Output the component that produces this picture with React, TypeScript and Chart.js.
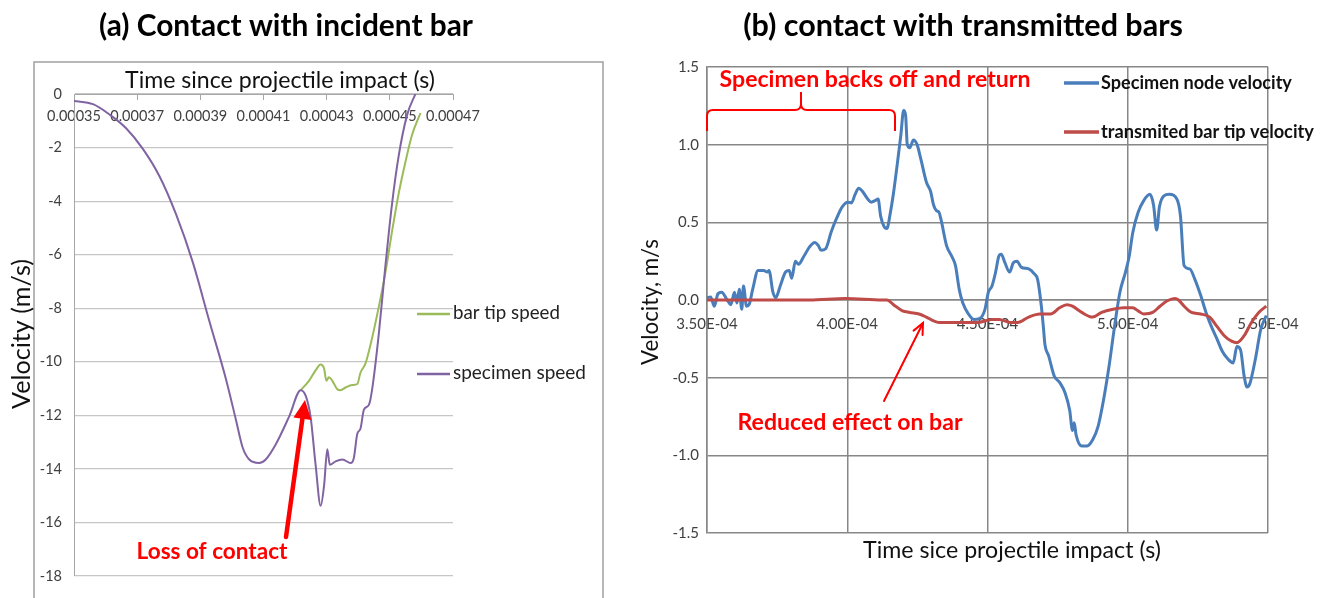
import React, { useEffect, useRef } from "react";
import { Chart, registerables } from "chart.js";

Chart.register(...registerables);

// ---------------- (a) Contact with incident bar ----------------
const leftTitle = "(a) Contact with incident bar";
const leftXTitle = "Time since projectile impact (s)";
const leftYTitle = "Velocity (m/s)";
const leftSeriesNames = ["bar tip speed", "specimen speed"];
const leftXTickLabels = ["0.00035", "0.00037", "0.00039", "0.00041", "0.00043", "0.00045", "0.00047"];
const leftYTickLabels = ["-18", "-16", "-14", "-12", "-10", "-8", "-6", "-4", "-2", "0"];

// time in microseconds since impact
const specimenTimeUs = [
  350, 356, 361.3, 366.5, 371.8, 377.1, 382.3, 387.6, 392.8, 398.1,
  401.3, 403.4, 405.5, 408.6, 410.7, 413.9, 418.1, 421.8, 423.4, 424.9,
  426.5, 428.1, 429.2, 430.2, 431.0, 432.8, 435.0, 437.6, 438.6, 439.7,
  440.7, 441.8, 443.4, 444.4, 446.5, 448.6, 450.7, 452.8, 455.5, 458.1,
];
const specimenSpeed = [
  -0.26, -0.38, -0.77, -1.28, -2.05, -3.08, -4.49, -6.28, -8.46, -10.64,
  -12.18, -13.2, -13.65, -13.78, -13.65, -13.08, -12.05, -11.06, -11.28, -12.05,
  -13.85, -15.38, -14.6, -13.27, -13.85, -13.72, -13.65, -13.78, -13.59, -12.69,
  -12.5, -11.79, -11.6, -11.03, -8.97, -6.41, -4.1, -2.31, -0.77, 0,
];
const barTipTimeUs = [
  421.8, 424.4, 426.5, 428.1, 429.2, 429.9, 430.7, 431.8, 433.4, 434.4,
  436.0, 438.1, 439.7, 440.7, 442.3, 444.4, 446.5, 448.6, 450.7, 452.8,
  454.9, 457.0, 459.7,
];
const barTipSpeed = [
  -11.06, -10.71, -10.32, -10.1, -10.26, -10.71, -10.58, -10.71, -11.03, -11.06,
  -10.96, -10.87, -10.83, -10.41, -10.06, -9.1, -7.95, -6.67, -5.13, -3.72,
  -2.56, -1.54, -0.71,
];

// ---------------- (b) contact with transmitted bars ----------------
const rightTitle = "(b) contact with transmitted bars";
const rightXTitle = "Time sice projectile impact (s)";
const rightYTitle = "Velocity, m/s";
const rightSeriesNames = ["Specimen node velocity", "transmited bar tip velocity"];
const rightXTickLabels = ["3.50E-04", "4.00E-04", "4.50E-04", "5.00E-04", "5.50E-04"];
const rightYTickLabels = ["-1.5", "-1.0", "-0.5", "0.0", "0.5", "1.0", "1.5"];
const braceNote = "Specimen backs off and return";
const arrowNoteA = "Loss of contact";
const arrowNoteB = "Reduced effect on bar";

const nodeTimeUs = [
  350, 351.3, 352.6, 353.9, 355.2, 357.2, 358.5, 359.8, 360.7, 361.5,
  362.4, 363, 364.1, 365, 366.3, 368.2, 370.2, 371.5, 372.1, 373.5,
  374.5, 376.1, 378, 379.3, 380.2, 381.5, 382.6, 384.5, 386.5, 388.4,
  389.7, 390.7, 392.3, 394.3, 396.3, 398.2, 400.2, 401.5, 402.8, 404.1,
  405.4, 407.3, 408.6, 409.9, 411, 411.9, 413.2, 414.1, 415.4, 416.5,
  417.8, 419.1, 420.1, 420.8, 421.4, 422.3, 423.6, 424.9, 426.2, 428.2,
  429.7, 430.8, 431.8, 432.7, 433.4, 435.4, 437.3, 438.6, 439.9, 441.2,
  443.2, 445.1, 447.1, 449.1, 450.3, 451.6, 452.9, 454, 454.9, 456.2,
  457.9, 459.2, 460.5, 462.1, 464.7, 466.6, 467.9, 469.2, 469.9, 470.5,
  471.8, 473.8, 475.7, 477.7, 479.3, 480.3, 480.9, 481.6, 483.6, 485.5,
  487.5, 489.4, 491.4, 493.3, 495.3, 497.2, 499.2, 500.5, 501.8, 503.7,
  505.7, 507.9, 509.2, 510.3, 511.3, 512.9, 514.8, 517.5, 518.8, 520.1,
  522.1, 524, 526, 527.9, 529.8, 531.8, 533.7, 535.7, 537.6, 538.9,
  540.2, 541.5, 542.5, 543.5, 545.5, 547.4, 549.4,
];
const nodeVelocity = [
  0.015, 0.02, -0.04, 0.04, 0.05, 0.0, -0.03, 0.05, -0.02, 0.07,
  -0.06, 0.09, -0.04, -0.03, 0.07, 0.19, 0.19, 0.18, 0.19, 0.05,
  0.015, 0.09, 0.18, 0.19, 0.14, 0.25, 0.23, 0.28, 0.34, 0.37,
  0.35, 0.32, 0.33, 0.44, 0.53, 0.6, 0.63, 0.625, 0.68, 0.72,
  0.7, 0.65, 0.63, 0.64, 0.65, 0.54, 0.47, 0.46, 0.565, 0.69,
  0.87, 1.06, 1.22, 1.19, 1.0, 0.98, 1.03, 1.0, 0.91, 0.76,
  0.7, 0.61, 0.575, 0.565, 0.52, 0.35, 0.28, 0.22, 0.07, -0.02,
  -0.09, -0.125, -0.12, -0.06, 0.05, 0.09, 0.18, 0.28, 0.295, 0.24,
  0.18, 0.24, 0.25, 0.21, 0.2, 0.17, 0.13, -0.04, -0.17, -0.29,
  -0.36, -0.49, -0.53, -0.6, -0.71, -0.84, -0.79, -0.87, -0.94, -0.94,
  -0.9, -0.815, -0.64, -0.43, -0.17, 0.05, 0.18, 0.28, 0.435, 0.565,
  0.64, 0.68, 0.61, 0.45, 0.6, 0.67, 0.68, 0.65, 0.54, 0.22,
  0.2, 0.13, 0.03, -0.08, -0.17, -0.25, -0.33, -0.38, -0.405, -0.3,
  -0.32, -0.49, -0.56, -0.54, -0.38, -0.19, -0.1,
];
const barTimeUs = [
  350, 360.4, 373.5, 386.5, 399.5, 412.5, 414.1, 416.5, 419.7, 422.3,
  425.6, 428.2, 430.8, 432.7, 438.6, 446.4, 451.6, 454.2, 458.1, 460.7,
  464.7, 468.6, 472.5, 475.7, 478.3, 480.3, 483.6, 487.5, 490.7, 494.7,
  498.6, 501.8, 503.7, 505.7, 508.9, 511.5, 514.1, 516.8, 518.1, 520.1,
  522.7, 526, 529.2, 531.8, 534.4, 537, 538.9, 541.5, 544.1, 546.7,
  549.4,
];
const barVelocity = [
  0, 0, 0, 0, 0.01, 0, 0, -0.03, -0.07, -0.08,
  -0.09, -0.11, -0.135, -0.145, -0.145, -0.145, -0.125, -0.125, -0.145, -0.145,
  -0.11, -0.09, -0.09, -0.05, -0.03, -0.04, -0.08, -0.11, -0.08, -0.06,
  -0.05, -0.05, -0.07, -0.09, -0.08, -0.04, -0.005, 0.01, 0, -0.04,
  -0.08, -0.09, -0.11, -0.17, -0.23, -0.265, -0.275, -0.23, -0.145, -0.08,
  -0.04,
];

const REG = "Lato, 'Open Sans', sans-serif";
const BOLD = "Lato, 'Open Sans', sans-serif";

const pts = (xs: number[], ys: number[]) => xs.map((x, i) => ({ x, y: ys[i] }));

function fitText(
  ctx: CanvasRenderingContext2D,
  text: string,
  x: number,
  y: number,
  width: number,
  opts: { weight?: string; family?: string; color?: string; align?: CanvasTextAlign; rotate?: boolean } = {}
) {
  const fam = opts.family || REG;
  const wt = opts.weight || "normal";
  ctx.save();
  ctx.font = `${wt} 100px ${fam}`;
  const m = ctx.measureText(text).width;
  const size = (100 * width) / m;
  ctx.font = `${wt} ${size}px ${fam}`;
  ctx.fillStyle = opts.color || "#000";
  ctx.textBaseline = "middle";
  ctx.textAlign = opts.align || "center";
  ctx.translate(x, y);
  if (opts.rotate) ctx.rotate(-Math.PI / 2);
  ctx.fillText(text, 0, 0);
  ctx.restore();
}

function arrow(
  ctx: CanvasRenderingContext2D,
  x1: number, y1: number, x2: number, y2: number,
  lw: number, headLen: number, headHalf: number, filled: boolean, color: string
) {
  const dx = x2 - x1, dy = y2 - y1;
  const len = Math.hypot(dx, dy);
  const ux = dx / len, uy = dy / len;
  const nx = -uy, ny = ux;
  const bx = x2 - ux * headLen, by = y2 - uy * headLen;
  ctx.save();
  ctx.strokeStyle = color;
  ctx.fillStyle = color;
  ctx.lineWidth = lw;
  ctx.lineCap = "round";
  ctx.beginPath();
  ctx.moveTo(x1, y1);
  ctx.lineTo(filled ? bx + ux * 2 : x2, filled ? by + uy * 2 : y2);
  ctx.stroke();
  ctx.beginPath();
  if (filled) {
    ctx.moveTo(x2, y2);
    ctx.lineTo(bx + nx * headHalf, by + ny * headHalf);
    ctx.lineTo(bx - nx * headHalf, by - ny * headHalf);
    ctx.closePath();
    ctx.fill();
  } else {
    ctx.moveTo(bx + nx * headHalf, by + ny * headHalf);
    ctx.lineTo(x2, y2);
    ctx.lineTo(bx - nx * headHalf, by - ny * headHalf);
    ctx.stroke();
  }
  ctx.restore();
}

const leftDecor = {
  id: "leftDecor",
  beforeDraw(chart: any) {
    const ctx = chart.ctx as CanvasRenderingContext2D;
    ctx.save();
    ctx.strokeStyle = "#A0A0A0";
    ctx.lineWidth = 1.5;
    ctx.strokeRect(34, 62, 569, 560);
    ctx.restore();
  },
  afterDraw(chart: any) {
    const ctx = chart.ctx as CanvasRenderingContext2D;
    fitText(ctx, leftTitle, 286, 26, 374, { weight: "bold", family: BOLD });
    fitText(ctx, leftXTitle, 280, 81, 310, { color: "#111" });
    fitText(ctx, leftYTitle, 22, 334, 150, { color: "#111", rotate: true });
    const ys = [314, 374];
    const widths = [107, 133];
    chart.data.datasets.forEach((ds: any, i: number) => {
      ctx.save();
      ctx.strokeStyle = ds.borderColor;
      ctx.lineWidth = 2.5;
      ctx.beginPath();
      ctx.moveTo(417, ys[i]);
      ctx.lineTo(450, ys[i]);
      ctx.stroke();
      ctx.restore();
      fitText(ctx, ds.label, 453, ys[i] - 1, widths[i], { color: "#222", align: "left" });
    });
    arrow(ctx, 286, 537, 305, 400, 4.5, 19, 9, true, "#FF0000");
    fitText(ctx, arrowNoteA, 212, 552, 151, { weight: "bold", family: BOLD, color: "#FF0000" });
  },
};

const rightDecor = {
  id: "rightDecor",
  afterDraw(chart: any) {
    const ctx = chart.ctx as CanvasRenderingContext2D;
    fitText(ctx, rightTitle, 963, 26, 440, { weight: "bold", family: BOLD });
    fitText(ctx, rightXTitle, 1012, 551, 298, { color: "#111" });
    fitText(ctx, rightYTitle, 651, 302, 126, { color: "#111", rotate: true });
    const ys = [83, 132];
    const widths = [191, 213];
    chart.data.datasets.forEach((ds: any, i: number) => {
      ctx.save();
      ctx.strokeStyle = ds.borderColor;
      ctx.lineWidth = 3.5;
      ctx.beginPath();
      ctx.moveTo(1064, ys[i]);
      ctx.lineTo(1099, ys[i]);
      ctx.stroke();
      ctx.restore();
      fitText(ctx, ds.label, 1101, ys[i], widths[i], { weight: "bold", family: BOLD, color: "#111", align: "left" });
    });
    // curly brace
    ctx.save();
    ctx.strokeStyle = "#FF0000";
    ctx.lineWidth = 2;
    ctx.beginPath();
    ctx.moveTo(707, 131);
    ctx.lineTo(707, 116);
    ctx.quadraticCurveTo(707, 110, 713, 110);
    ctx.lineTo(795, 110);
    ctx.quadraticCurveTo(801, 110, 801, 104);
    ctx.lineTo(801, 92);
    ctx.moveTo(801, 104);
    ctx.quadraticCurveTo(801, 110, 807, 110);
    ctx.lineTo(889, 110);
    ctx.quadraticCurveTo(895, 110, 895, 116);
    ctx.lineTo(895, 131);
    ctx.stroke();
    ctx.restore();
    fitText(ctx, braceNote, 875, 80, 311, { weight: "bold", family: BOLD, color: "#FF0000" });
    arrow(ctx, 884, 401, 923, 323, 2, 11, 5, false, "#FF0000");
    fitText(ctx, arrowNoteB, 850, 423, 225, { weight: "bold", family: BOLD, color: "#FF0000" });
  },
};

export default function App() {
  const refA = useRef<HTMLCanvasElement>(null);
  const refB = useRef<HTMLCanvasElement>(null);

  useEffect(() => {
    document.body.style.margin = "0";
    const tickFont = { family: REG, size: 14.5 };
    const a = new Chart(refA.current as HTMLCanvasElement, {
      type: "line",
      data: {
        datasets: [
          {
            label: leftSeriesNames[0],
            data: pts(barTipTimeUs, barTipSpeed),
            borderColor: "#9BBB59",
            borderWidth: 2,
            pointRadius: 0,
            cubicInterpolationMode: "monotone",
            fill: false,
            order: 1,
          },
          {
            label: leftSeriesNames[1],
            data: pts(specimenTimeUs, specimenSpeed),
            borderColor: "#8064A2",
            borderWidth: 2,
            pointRadius: 0,
            cubicInterpolationMode: "monotone",
            fill: false,
            order: 0,
          },
        ],
      },
      options: {
        responsive: false,
        animation: false,
        events: [],
        layout: { padding: { left: 0, right: 877, top: 94, bottom: 22 } },
        plugins: { legend: { display: false }, title: { display: false }, tooltip: { enabled: false } },
        scales: {
          x: {
            type: "linear",
            position: { y: 0 } as any,
            min: 350,
            max: 470,
            ticks: {
              stepSize: 20,
              autoSkip: false,
              maxRotation: 0,
              padding: 9,
              color: "#404040",
              font: tickFont,
              callback: (_v: any, i: number) => leftXTickLabels[i] ?? "",
            },
            grid: { display: true, drawOnChartArea: false, drawTicks: true, tickLength: 5, color: "#A6A6A6" },
            border: { display: true, color: "#A6A6A6" },
          },
          y: {
            type: "linear",
            min: -18,
            max: 0,
            ticks: {
              stepSize: 2,
              padding: 12,
              color: "#404040",
              font: tickFont,
              callback: (_v: any, i: number) => leftYTickLabels[i] ?? "",
            },
            grid: { color: "#C6C6C6", lineWidth: 1.2, drawTicks: false },
            border: { display: true, color: "#A6A6A6" },
            afterFit: (s: any) => {
              s.width = 74;
            },
          },
        },
      } as any,
      plugins: [leftDecor],
    });

    const rFont = { family: REG, size: 15 };
    const b = new Chart(refB.current as HTMLCanvasElement, {
      type: "line",
      data: {
        datasets: [
          {
            label: rightSeriesNames[0],
            data: pts(nodeTimeUs, nodeVelocity),
            borderColor: "#4A7EBB",
            borderWidth: 3,
            pointRadius: 0,
            cubicInterpolationMode: "monotone",
            fill: false,
            order: 1,
          },
          {
            label: rightSeriesNames[1],
            data: pts(barTimeUs, barVelocity),
            borderColor: "#BE4B48",
            borderWidth: 3,
            pointRadius: 0,
            cubicInterpolationMode: "monotone",
            fill: false,
            order: 0,
          },
        ],
      },
      options: {
        responsive: false,
        animation: false,
        events: [],
        layout: { padding: { left: 620, right: 62, top: 67, bottom: 65 } },
        plugins: { legend: { display: false }, title: { display: false }, tooltip: { enabled: false } },
        scales: {
          x: {
            type: "linear",
            position: { y: 0 } as any,
            min: 350,
            max: 550,
            ticks: {
              stepSize: 50,
              autoSkip: false,
              maxRotation: 0,
              padding: 15,
              color: "#404040",
              font: rFont,
              callback: (_v: any, i: number) => rightXTickLabels[i] ?? "",
            },
            grid: { color: "#878787", lineWidth: 1.5, drawTicks: false },
            border: { display: true, color: "#878787", width: 1.5 },
          },
          y: {
            type: "linear",
            min: -1.5,
            max: 1.5,
            ticks: {
              stepSize: 0.5,
              padding: 8,
              color: "#404040",
              font: rFont,
              callback: (_v: any, i: number) => rightYTickLabels[i] ?? "",
            },
            grid: { color: "#878787", lineWidth: 1.5, drawTicks: false },
            border: { display: true, color: "#878787", width: 1.5 },
            afterFit: (s: any) => {
              s.width = 87;
            },
          },
        },
      } as any,
      plugins: [rightDecor],
    });

    return () => {
      a.destroy();
      b.destroy();
    };
  }, []);

  return (
    <div style={{ position: "relative", width: 1330, height: 598, background: "#fff", overflow: "hidden" }}>
      <canvas ref={refA} width={1330} height={598} style={{ position: "absolute", left: 0, top: 0 }} />
      <canvas ref={refB} width={1330} height={598} style={{ position: "absolute", left: 0, top: 0 }} />
    </div>
  );
}
